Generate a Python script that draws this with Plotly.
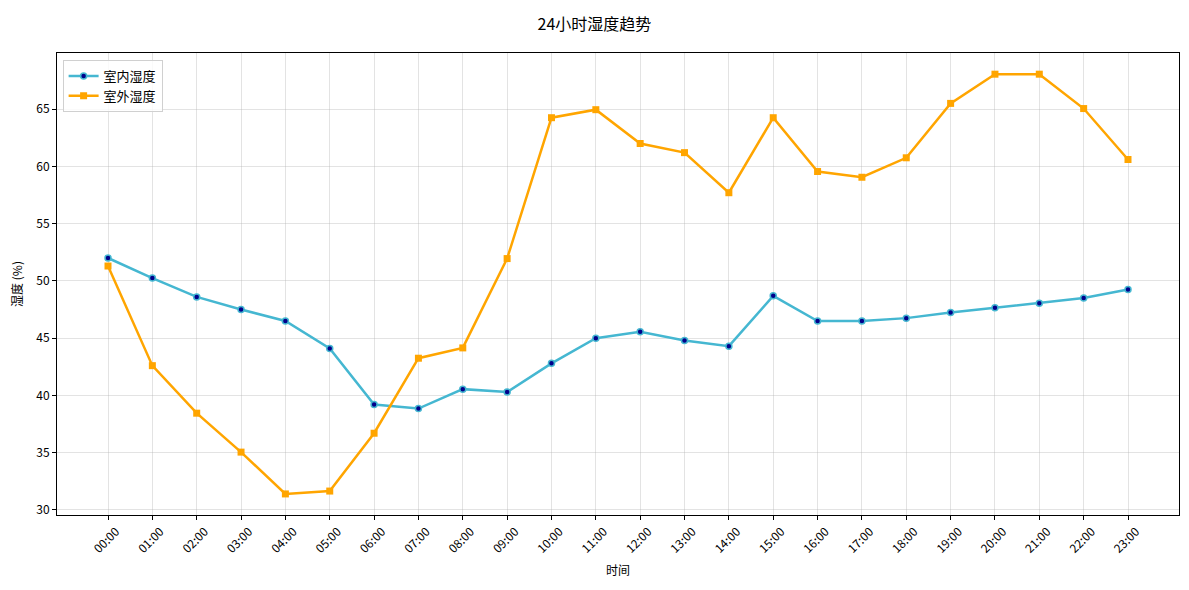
import plotly.graph_objects as go

# hourly labels
hours = ['00:00', '01:00', '02:00', '03:00', '04:00', '05:00', '06:00', '07:00',
         '08:00', '09:00', '10:00', '11:00', '12:00', '13:00', '14:00', '15:00',
         '16:00', '17:00', '18:00', '19:00', '20:00', '21:00', '22:00', '23:00']

# humidity readings (%)
indoor = [52.0, 50.25, 48.6, 47.5, 46.5, 44.1, 39.2, 38.85, 40.55, 40.3, 42.8, 45.0,
          45.55, 44.8, 44.3, 48.7, 46.5, 46.5, 46.75, 47.25, 47.65, 48.05, 48.5, 49.25]
outdoor = [51.3, 42.6, 38.45, 35.05, 31.4, 31.65, 36.7, 43.25, 44.15, 51.95, 64.25, 64.95,
           62.0, 61.2, 57.7, 64.25, 59.55, 59.05, 60.75, 65.5, 68.05, 68.05, 65.05, 60.6]

x_idx = list(range(len(hours)))

fig = go.Figure()

fig.add_trace(go.Scatter(
    x=x_idx, y=indoor, name='室内湿度', mode='lines+markers',
    line=dict(color='#45B7D1', width=2.5),
    marker=dict(symbol='circle', size=6, color='#00008B',
                line=dict(color='#45B7D1', width=1.5))
))

fig.add_trace(go.Scatter(
    x=x_idx, y=outdoor, name='室外湿度', mode='lines+markers',
    line=dict(color='#FFA500', width=2.5),
    marker=dict(symbol='square', size=7, color='#FFA500')
))

# page body has an 8px margin, so the figure is sized to fit inside the window
fig.update_layout(
    width=1173, height=574,
    font=dict(family='Noto Sans CJK SC', size=12, color='black'),
    title=dict(text='24小时湿度趋势', x=0.5, xanchor='center', y=0.972, yanchor='middle',
               font=dict(size=16, color='black')),
    plot_bgcolor='white', paper_bgcolor='white',
    margin=dict(l=49, r=2, t=45, b=67, autoexpand=False),
    showlegend=True,
    legend=dict(x=0.005, y=0.985, xanchor='left', yanchor='top',
                bgcolor='rgba(255,255,255,0.8)', bordercolor='#d0d0d0', borderwidth=1,
                font=dict(size=13)),
    xaxis=dict(
        title=dict(text='时间', font=dict(size=12), standoff=11),
        range=[-1.15, 24.15], tickmode='array', tickvals=x_idx, ticktext=hours,
        tickangle=-45, ticklabelshift=8, showgrid=True, gridcolor='rgba(176,176,176,0.35)',
        ticks='outside', ticklen=4, tickcolor='black', automargin=False,
        showline=True, linecolor='black', linewidth=1, mirror=True, zeroline=False,
        tickfont=dict(size=12)
    ),
    yaxis=dict(
        title=dict(text='湿度 (%)', font=dict(size=12), standoff=12),
        range=[29.56, 69.9], tickmode='array', tickvals=[30, 35, 40, 45, 50, 55, 60, 65],
        showgrid=True, gridcolor='rgba(176,176,176,0.35)',
        ticks='outside', ticklen=4, tickcolor='black', automargin=False,
        showline=True, linecolor='black', linewidth=1, mirror=True, zeroline=False,
        tickfont=dict(size=12)
    ),
)

fig.write_html('out.html')
